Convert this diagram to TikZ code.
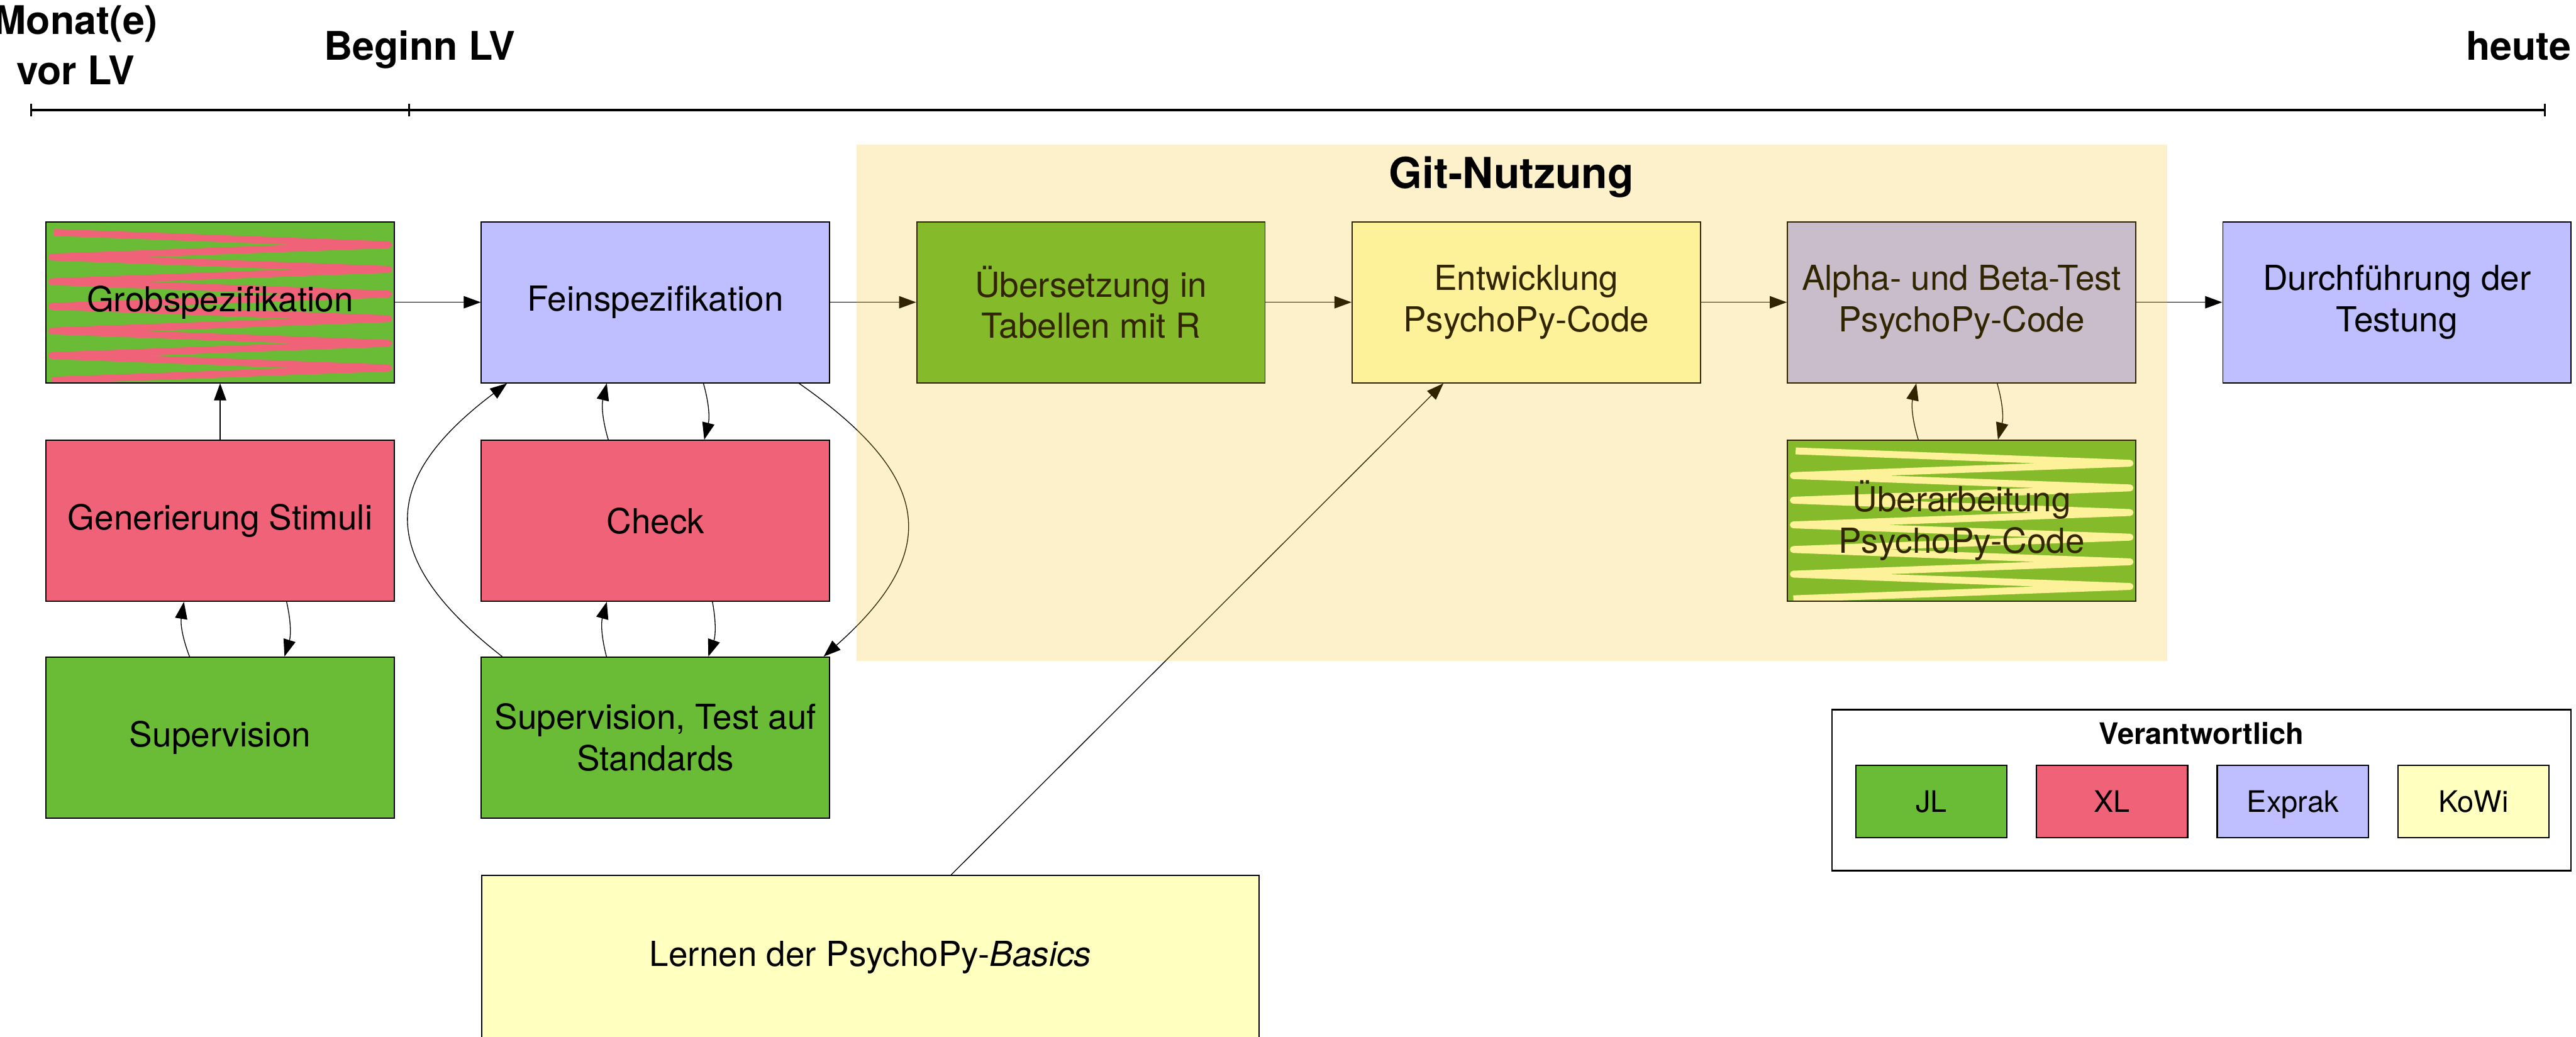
\documentclass[tikz,border=0pt]{standalone}
\usepackage{fontspec}
\setmainfont{TeX Gyre Heros}
\usetikzlibrary{
    arrows.meta,
    calc,
    positioning
}
\definecolor{jlgreen}{RGB}{106,187,54}
\definecolor{xlred}{RGB}{240,98,120}
\definecolor{exprakblue}{RGB}{191,191,255}
\definecolor{kowiyellow}{RGB}{255,255,192}
\definecolor{gitorange}{RGB}{245,185,0}
\tikzset{
    task/.style={draw=black, line width=0.7pt, minimum width=212pt, minimum height=98pt,
        inner sep=0pt, align=center, font=\fontsize{21}{25.2}\selectfont},
    legendentry/.style={draw=black, line width=0.8pt, minimum width=92pt, minimum height=44pt,
        inner sep=0pt, text height=13pt, text depth=0pt, font=\fontsize{18}{21}\selectfont},
    flow/.style={line width=0.5pt, -{Triangle[length=10.4pt, width=7.5pt]}},
    timelabel/.style={font=\bfseries\fontsize{24}{30.8}\selectfont, align=center, anchor=base},
    scribble/.style={path picture={
        \draw[#1, line width=4.2pt, line join=round]
            ($(path picture bounding box.north west)+(5,-6.5)$)
            \foreach \k in {1,...,12} {
                -- ($(path picture bounding box.north west)+({ifthenelse(mod(\k,2)==1,208.5,3.6)},{-6.5-7.5*\k})$)
            };
    }}
}

\begin{document}
\begin{tikzpicture}[x=1pt, y=1pt]
    \useasboundingbox (0, 0) rectangle (1568, -631);
    % Zeitachse
    \draw[line width=1.7pt] (19, -67) -- (1549, -67);
    \foreach \x in {19, 249, 1549}
        \draw[line width=1.4pt] (\x, -63) -- (\x, -71);
    \node[timelabel] (vorlv) at (46, -51.6) {Monat(e)\\vor LV};
    \node[timelabel] (beginn) at (255.5, -36.5) {Beginn LV};
    \node[timelabel] (heute) at (1533, -36.5) {heute};
    % obere Reihe
    \node[task, fill=jlgreen, scribble=xlred] (grob) at (134, -184) {Grobspezifikation};
    \node[task, fill=exprakblue] (fein) at (399, -184) {Feinspezifikation};
    \node[task, fill=jlgreen] (tabellen) at (664, -184) {Übersetzung in\\Tabellen mit R};
    \node[task, fill=kowiyellow] (entwicklung) at (929, -184) {Entwicklung\\PsychoPy-Code};
    \node[task, fill=exprakblue] (alphabeta) at (1194, -184) {Alpha- und Beta-Test\\PsychoPy-Code};
    \node[task, fill=exprakblue] (testung) at (1459, -184) {Durchführung der\\Testung};
    % mittlere Reihe
    \node[task, fill=xlred] (stimuli) at (134, -317) {Generierung Stimuli};
    \node[task, fill=xlred] (check) at (399, -317) {Check};
    \node[task, fill=jlgreen, scribble=kowiyellow] (ueberarbeitung) at (1194, -317) {Überarbeitung\\PsychoPy-Code};
    % untere Reihe
    \node[task, fill=jlgreen] (supervision) at (134, -449) {Supervision};
    \node[task, fill=jlgreen] (standards) at (399, -449) {Supervision, Test auf\\Standards};
    \node[task, fill=kowiyellow, minimum width=473pt, minimum height=100pt, anchor=north west] (basics) at (293, -532.5) {Lernen der PsychoPy-\textit{Basics}};
    % Pfeile
    \draw[flow] (grob) -- (fein);
    \draw[flow] (fein) -- (tabellen);
    \draw[flow] (tabellen) -- (entwicklung);
    \draw[flow] (entwicklung) -- (alphabeta);
    \draw[flow] (alphabeta) -- (testung);
    \draw[flow] (stimuli) -- (grob);
    \draw[flow] ($(supervision.north west)+(87.7, 0)$) to[bend left=15] ($(stimuli.south west)+(84.3, 0)$);
    \draw[flow] ($(stimuli.south west)+(146.8, 0)$) to[bend left=15] ($(supervision.north west)+(145.5, 0)$);
    \draw[flow] ($(check.north west)+(77.6, 0)$) to[bend left=15] ($(fein.south west)+(76.7, 0)$);
    \draw[flow] ($(fein.south west)+(135.5, 0)$) to[bend left=15] ($(check.north west)+(136, 0)$);
    \draw[flow] ($(standards.north west)+(76.5, 0)$) to[bend left=15] ($(check.south west)+(76.7, 0)$);
    \draw[flow] ($(check.south west)+(141, 0)$) to[bend left=15] ($(standards.north west)+(138.5, 0)$);
    \draw[flow] ($(ueberarbeitung.north west)+(80, 0)$) to[bend left=15] ($(alphabeta.south west)+(78.8, 0)$);
    \draw[flow] ($(alphabeta.south west)+(128, 0)$) to[bend left=15] ($(ueberarbeitung.north west)+(128.5, 0)$);
    \draw[flow] ($(standards.north west)+(13, 0)$) to[out=142, in=217, looseness=1.5] ($(fein.south west)+(16, 0)$);
    \draw[flow] ($(fein.south east)+(-19, 0)$) to[out=-35, in=41.5, looseness=1.5] ($(standards.north east)+(-4, 0)$);
    \draw[flow] ($(basics.north west)+(286, 0)$) -- ($(entwicklung.south west)+(56, 0)$);
    % Git-Bereich
    \node[fill=gitorange, fill opacity=0.2, minimum width=798pt, minimum height=314pt, inner sep=0pt, anchor=north west] (git) at (521, -88) {};
    \node[font=\bfseries\fontsize{26}{30}\selectfont, anchor=base] (gittitel) at (920, -114.7) {Git-Nutzung};
    % Legende
    \node[draw=black, line width=0.8pt, minimum width=450pt, minimum height=98pt, inner sep=0pt] (legende) at (1340, -481) {};
    \node[font=\bfseries\fontsize{18}{21}\selectfont, anchor=base] (legtitel) at (1340, -453) {Verantwortlich};
    \foreach \name/\farbe [count=\i] in {JL/jlgreen, XL/xlred, Exprak/exprakblue, KoWi/kowiyellow}
        \node[legendentry, fill=\farbe] (leg\i) at ({1175.6+110*(\i-1)}, -488) {\name};
\end{tikzpicture}
\end{document}
